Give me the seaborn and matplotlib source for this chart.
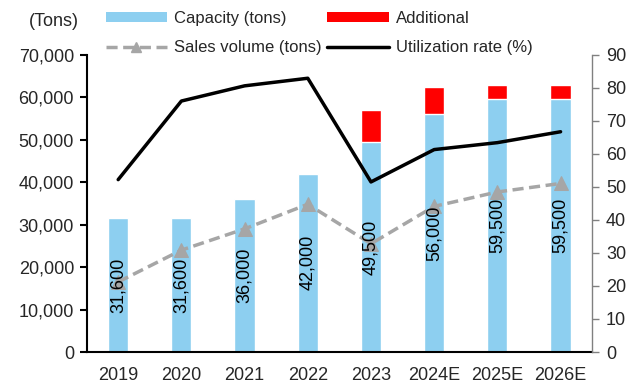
import numpy as np
import pandas as pd
import matplotlib
matplotlib.use("Agg")
import matplotlib.pyplot as plt
from matplotlib.ticker import FuncFormatter, FixedLocator, MultipleLocator
from matplotlib.lines import Line2D
from matplotlib.patches import Patch
import seaborn as sns

# Capacity, expansion, sales and utilization by year
years = ["2019", "2020", "2021", "2022", "2023", "2024E", "2025E", "2026E"]
capacity = [31600, 31600, 36000, 42000, 49500, 56000, 59500, 59500]
additional = [0, 0, 0, 0, 7500, 6500, 3500, 3500]
sales = [16500, 24000, 29000, 34800, 25500, 34300, 37700, 39700]
utilization = [52.2, 76.0, 80.6, 82.9, 51.5, 61.3, 63.4, 66.7]

sns.set_style("white")
plt.rcParams["font.family"] = ["Liberation Sans", "DejaVu Sans"]

blue = "#8DCFF0"
red = "#FF0000"
grey = "#A6A6A6"

df = pd.DataFrame({
    "year": years,
    "capacity": capacity,
    "total": np.array(capacity) + np.array(additional),
    "sales": sales,
    "util": utilization,
})
pos = np.arange(len(years))

fig = plt.figure(figsize=(6.32, 3.87), dpi=100)
ax = fig.add_axes([0.137, 0.0904, 0.8, 0.768])

# stacked bars: full height in red, capacity in blue on top of it
sns.barplot(data=df, x="year", y="total", color=red, width=0.32,
            saturation=1, ax=ax, zorder=2)
sns.barplot(data=df, x="year", y="capacity", color=blue, width=0.32,
            saturation=1, ax=ax, zorder=2)

sns.lineplot(x=pos, y=df["sales"], ax=ax, color=grey, lw=2.5,
             linestyle=(0, (3.2, 1.6)), marker="^", markersize=10,
             markeredgecolor=grey, zorder=3)

for i, v in enumerate(capacity):
    ax.text(i, v / 2, f"{v:,}", rotation=90, ha="center", va="center",
            fontsize=13, color="black", zorder=5)

ax.set_ylim(0, 70000)
ax.set_xlim(-0.5, len(years) - 0.5)
ax.yaxis.set_major_locator(MultipleLocator(10000))
ax.yaxis.set_major_formatter(FuncFormatter(lambda v, p: f"{int(v):,}"))
ax.set_xlabel("")
ax.set_ylabel("")
ax.xaxis.set_major_locator(FixedLocator(pos))
ax.set_xticklabels(years)
ax.xaxis.set_minor_locator(FixedLocator(np.arange(-0.5, len(years), 1.0)))
ax.tick_params(axis="x", which="major", length=0, labelsize=13, pad=11)
ax.tick_params(axis="x", which="minor", length=5, width=1.5, color="black",
               direction="out")
ax.tick_params(axis="y", length=5, width=1.5, color="black", direction="out",
               labelsize=13, pad=4)
for s in ["top", "right"]:
    ax.spines[s].set_visible(False)
for s in ["left", "bottom"]:
    ax.spines[s].set_color("black")
    ax.spines[s].set_linewidth(1.5)

ax2 = ax.twinx()
sns.lineplot(x=pos, y=df["util"], ax=ax2, color="black", lw=2.5, zorder=4)
ax2.set_ylim(0, 90)
ax2.yaxis.set_major_locator(MultipleLocator(10))
ax2.set_ylabel("")
ax2.tick_params(axis="y", length=5, width=1, color="#808080",
                direction="out", labelsize=13, pad=5)
for s in ["top", "left", "bottom"]:
    ax2.spines[s].set_visible(False)
ax2.spines["right"].set_color("#808080")
ax2.spines["right"].set_linewidth(1)

fig.text(0.045, 0.945, "(Tons)", fontsize=13, ha="left", va="center")

handles = [
    Patch(facecolor=blue, edgecolor="none"),
    Line2D([], [], color=grey, lw=2.5, linestyle=(0, (3.2, 1.6)), marker="^",
           markersize=7),
    Patch(facecolor=red, edgecolor="none"),
    Line2D([], [], color="black", lw=2.5),
]
labels = ["Capacity (tons)", "Sales volume (tons)", "Additional",
          "Utilization rate (%)"]
fig.legend(handles, labels, loc="upper left", bbox_to_anchor=(0.15, 1.0),
           ncol=2, frameon=False, fontsize=12, handlelength=3.7,
           handleheight=0.5, handletextpad=0.4, columnspacing=0.35,
           labelspacing=0.85, borderaxespad=0.25)

fig.savefig("out.png", dpi=100)
